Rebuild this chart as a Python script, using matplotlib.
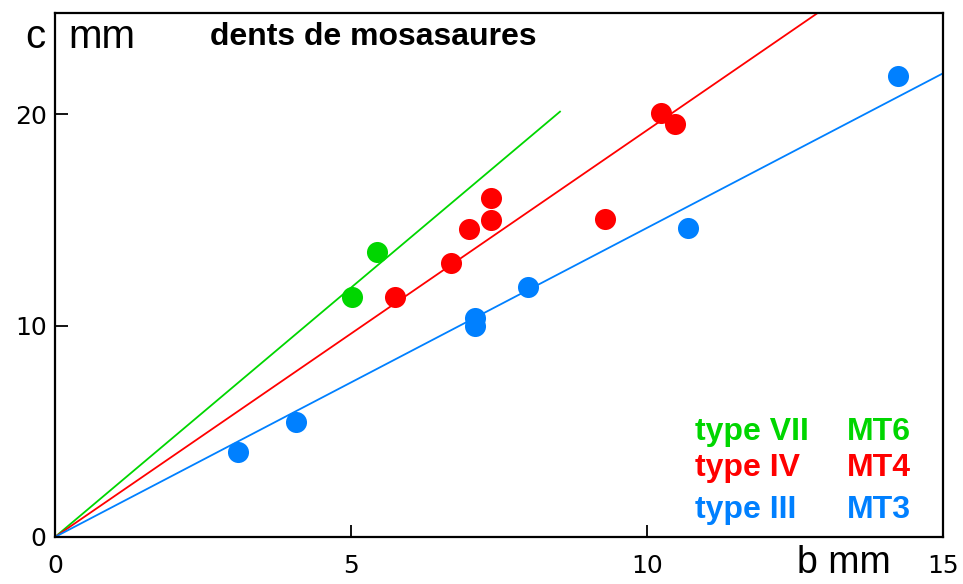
import matplotlib.pyplot as plt
import numpy as np

# mosasaur teeth: b (mm) vs c (mm)
green_b = [5.02, 5.44]
green_c = [11.35, 13.48]
red_b = [5.74, 6.69, 6.99, 7.36, 7.36, 9.29, 10.24, 10.47]
red_c = [11.35, 12.95, 14.6, 14.99, 16.03, 15.04, 20.05, 19.57]
blue_b = [3.09, 4.07, 7.09, 7.09, 7.99, 10.69, 14.24]
blue_c = [4.02, 5.44, 10.35, 9.98, 11.82, 14.61, 21.8]

# fitted lines through origin: slope and end b
slopes = {'green': 2.36, 'red': 1.925, 'blue': 1.463}
line_end = {'green': 8.53, 'red': 13.0, 'blue': 15.0}

groups = ['type VII', 'type IV', 'type III']
codes = ['MT6', 'MT4', 'MT3']

xticks = [0, 5, 10, 15]
yticks = [0, 10, 20]

GREEN = '#00d600'
RED = '#ff0000'
BLUE = '#0080ff'

W, H = 963, 584
fig = plt.figure(figsize=(W / 100, H / 100), dpi=100)
ax = fig.add_axes([55 / W, 1 - 537 / H, (943 - 55) / W, (537 - 13) / H])

for name, col in [('green', GREEN), ('red', RED), ('blue', BLUE)]:
    xs = np.array([0, line_end[name]])
    ax.plot(xs, slopes[name] * xs, color=col, lw=1.3, zorder=2)

ax.scatter(green_b, green_c, s=230, color=GREEN, zorder=3, lw=0)
ax.scatter(red_b, red_c, s=230, color=RED, zorder=3, lw=0)
ax.scatter(blue_b, blue_c, s=230, color=BLUE, zorder=3, lw=0)

ax.set_xlim(0, 15)
ax.set_ylim(0, 24.8)
ax.set_xticks(xticks)
ax.set_yticks(yticks)
ax.tick_params(direction='in', length=9, width=1.3, labelsize=18)
ax.tick_params(axis='x', pad=12)
ax.tick_params(axis='y', pad=6)
for s in ax.spines.values():
    s.set_linewidth(1.6)

def px(x, y):
    return x / W, 1 - y / H

fig.text(*px(45, 37), 'c', ha='right', va='center', fontsize=29,
         family='Liberation Sans')
fig.text(*px(68, 37), 'mm', ha='left', va='center', fontsize=29,
         family='Liberation Sans')
fig.text(*px(210, 37), 'dents de mosasaures', ha='left', va='center',
         fontsize=23, fontweight='bold', family='Liberation Sans')
fig.text(*px(797, 563), 'b mm', ha='left', va='center', fontsize=27,
         family='Liberation Sans')

rows_y = [432, 468, 510]
for g, c, col, yy in zip(groups, codes, [GREEN, RED, BLUE], rows_y):
    fig.text(*px(695, yy), g, ha='left', va='center', fontsize=23,
             fontweight='bold', color=col, family='Liberation Sans')
    fig.text(*px(847, yy), c, ha='left', va='center', fontsize=23,
             fontweight='bold', color=col, family='Liberation Sans')

fig.savefig('out.png', dpi=100)
